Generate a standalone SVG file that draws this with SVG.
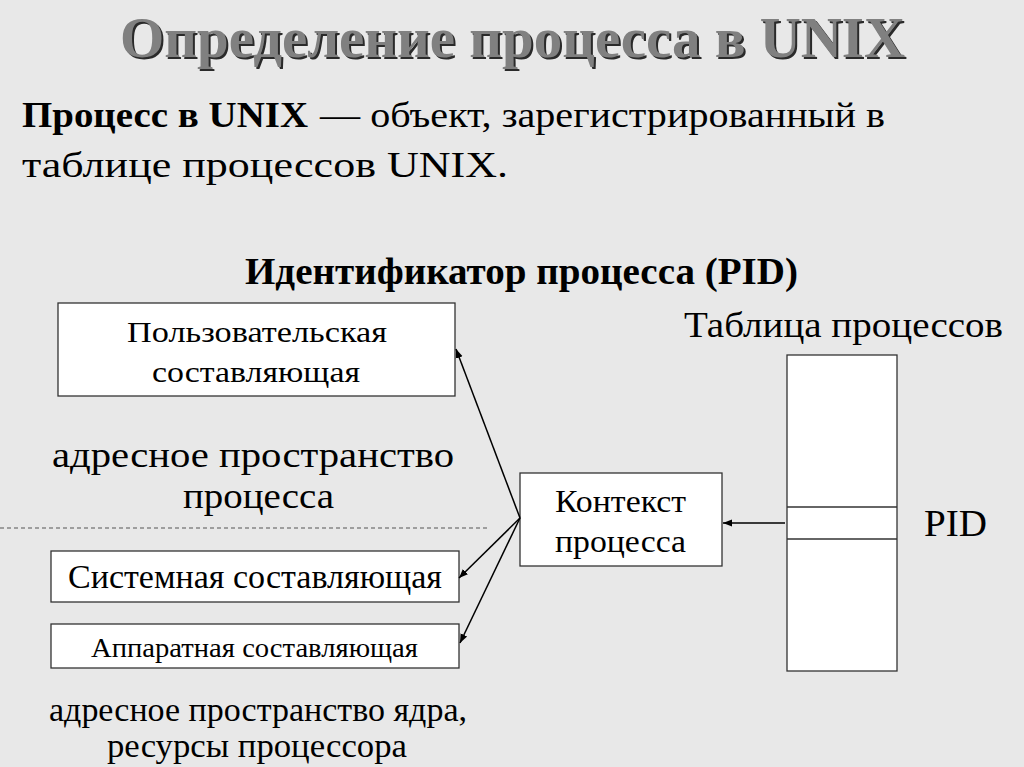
<svg xmlns="http://www.w3.org/2000/svg" width="1024" height="767" viewBox="0 0 1024 767">
<defs>
<style>
.t{font-family:"Liberation Serif","Times New Roman",serif;fill:#000}
.b{font-weight:bold}
.box{fill:#fff;stroke:#333;stroke-width:1.3}
.c{stroke:#000;stroke-width:1.5;fill:none}
</style>
<marker id="ah" viewBox="0 0 10 10" refX="10" refY="5" markerWidth="9" markerHeight="9" markerUnits="userSpaceOnUse" orient="auto"><path d="M0,1 L10,5 L0,9 z" fill="#000"/></marker>
</defs>
<rect width="1024" height="767" fill="#e8e8e8"/>
<g id="title">
<text x="122" y="59" class="t b" font-size="58" textLength="785" lengthAdjust="spacingAndGlyphs" style="fill:#2a2a2a">Определение процесса в UNIX</text>
<text x="120" y="57" class="t b" font-size="58" textLength="785" lengthAdjust="spacingAndGlyphs" style="fill:#808080">Определение процесса в UNIX</text>
</g>
<g id="definition">
<text x="22" y="127" class="t b" font-size="36" textLength="286" lengthAdjust="spacingAndGlyphs">Процесс в UNIX</text>
<text x="320" y="127" class="t" font-size="36" textLength="565" lengthAdjust="spacingAndGlyphs">— объект, зарегистрированный в</text>
<text x="22" y="177" class="t" font-size="36" textLength="486" lengthAdjust="spacingAndGlyphs">таблице процессов UNIX.</text>
</g>
<text x="245" y="284" class="t b" font-size="38" textLength="553" lengthAdjust="spacingAndGlyphs">Идентификатор процесса (PID)</text>
<g id="user">
<rect x="58" y="303" width="397" height="93" class="box"/>
<text x="127" y="342" class="t" font-size="29" textLength="260" lengthAdjust="spacingAndGlyphs">Пользовательская</text>
<text x="152" y="382" class="t" font-size="29" textLength="208" lengthAdjust="spacingAndGlyphs">составляющая</text>
</g>
<text x="52" y="467" class="t" font-size="35" textLength="402" lengthAdjust="spacingAndGlyphs">адресное пространство</text>
<text x="183" y="508" class="t" font-size="35" textLength="151" lengthAdjust="spacingAndGlyphs">процесса</text>
<line x1="0" y1="528" x2="487" y2="528" stroke="#555" stroke-width="1" stroke-dasharray="4,3"/>
<g id="system">
<rect x="51" y="551" width="408" height="51" class="box"/>
<text x="68" y="588" class="t" font-size="33" textLength="374" lengthAdjust="spacingAndGlyphs">Системная составляющая</text>
</g>
<g id="hardware">
<rect x="51" y="624" width="408" height="44" class="box"/>
<text x="91" y="657" class="t" font-size="28" textLength="327" lengthAdjust="spacingAndGlyphs">Аппаратная составляющая</text>
</g>
<text x="49" y="721" class="t" font-size="34" textLength="418" lengthAdjust="spacingAndGlyphs">адресное пространство ядра,</text>
<text x="107" y="757" class="t" font-size="34" textLength="300" lengthAdjust="spacingAndGlyphs">ресурсы процессора</text>
<g id="context">
<rect x="520" y="473" width="202" height="93" class="box"/>
<text x="555" y="512" class="t" font-size="32" textLength="131" lengthAdjust="spacingAndGlyphs">Контекст</text>
<text x="555" y="552" class="t" font-size="32" textLength="131" lengthAdjust="spacingAndGlyphs">процесса</text>
</g>
<g id="table">
<text x="684" y="337" class="t" font-size="36" textLength="319" lengthAdjust="spacingAndGlyphs">Таблица процессов</text>
<rect x="787" y="355" width="110" height="316" class="box"/>
<line x1="787" y1="507" x2="897" y2="507" stroke="#333" stroke-width="1.3"/>
<line x1="787" y1="539" x2="897" y2="539" stroke="#333" stroke-width="1.3"/>
<text x="924" y="536" class="t" font-size="38" textLength="63" lengthAdjust="spacingAndGlyphs">PID</text>
</g>
<g id="connectors">
<line x1="785" y1="523" x2="723" y2="523" class="c" marker-end="url(#ah)"/>
<line x1="520" y1="518" x2="456" y2="349" class="c" marker-end="url(#ah)"/>
<line x1="520" y1="518" x2="459" y2="578" class="c" marker-end="url(#ah)"/>
<line x1="520" y1="518" x2="460" y2="643" class="c" marker-end="url(#ah)"/>
</g>
</svg>
